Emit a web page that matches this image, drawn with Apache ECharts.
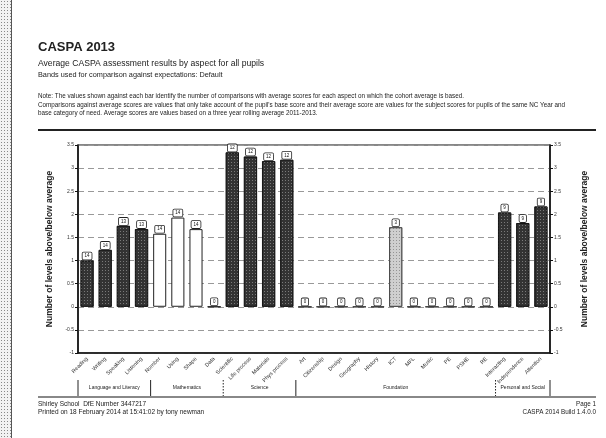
<!DOCTYPE html>
<html><head><meta charset="utf-8">
<script src="https://cdn.jsdelivr.net/npm/echarts@6/dist/echarts.min.js"></script>
<style>
html,body{margin:0;padding:0;background:#fff;}
#chart{position:absolute;left:0;top:0;width:606px;height:438px;}
#strip{position:absolute;left:0;top:0;width:11px;height:438px;border-right:1px solid #555;
background-color:#f2f2f2;background-image:radial-gradient(#888 0.6px, transparent 0.8px);background-size:3px 3px;}
</style></head><body>
<div id="chart"></div><div id="strip"></div>
<script>
// ---- data ----
const categories = ['Reading','Writing','Speaking','Listening','Number','Using','Shape','Data',
  'Scientific','Life process','Materials','Phys process',
  'Art','Citizenship','Design','Geography','History','ICT','MFL','Music','PE','PSHE','RE',
  'Interacting','Independence','Attention'];
const groupNames = ['Language and Literacy','Mathematics','Science','Foundation','Personal and Social'];
const groupSizes = [4,4,4,11,3];
const values = [1.00,1.23,1.75,1.68, 1.58,1.93,1.68,0.00, 3.34,3.25,3.15,3.18,
  0,0,0,0,0,1.72,0,0,0,0,0, 2.04,1.81,2.17];
const counts = [14,14,13,13, 14,14,14,0, 12,12,12,12, 0,0,0,0,0,3,0,0,0,0,0, 9,9,9];
const yMin = -1, yMax = 3.5, yInterval = 0.5;
const axisName = 'Number of levels above/below average';

// ---- styles per group ----
const darkStyle = {color:'#333', borderColor:'#111', borderWidth:0.8,
  decal:{symbol:'rect', symbolSize:1, color:'rgba(255,255,255,0.35)', dashArrayX:[1,2], dashArrayY:[1,2]}};
const whiteStyle = {color:'#fff', borderColor:'#222', borderWidth:1};
const lightStyle = {color:'#cfcfcf', borderColor:'#444', borderWidth:0.8,
  decal:{symbol:'rect', symbolSize:1, color:'rgba(90,90,90,0.5)', dashArrayX:[1,2], dashArrayY:[1,2]}};
const groupStyles = [darkStyle, whiteStyle, darkStyle, lightStyle, darkStyle];

const groupOf = [];
groupSizes.forEach((n,g)=>{for(let i=0;i<n;i++) groupOf.push(g);});

const chart = echarts.init(document.getElementById('chart'), null, {renderer:'canvas'});
const txt = (s, pos, top, size, extra) => Object.assign({text:s, top:top, padding:0,
  textStyle:Object.assign({fontSize:size, fontWeight:'normal', color:'#222', fontFamily:'Liberation Sans'}, extra||{})}, pos);

const yAxisBase = {type:'value', min:yMin, max:yMax, interval:yInterval,
  name:axisName, nameLocation:'middle', nameRotate:90,
  nameTextStyle:{fontSize:8.5, fontWeight:'bold', color:'#222', fontFamily:'Liberation Sans'},
  axisLine:{show:true, lineStyle:{color:'#111', width:1.5}},
  axisTick:{show:true, length:3, lineStyle:{color:'#111'}},
  axisLabel:{fontSize:5, color:'#333', margin:4}};

chart.setOption({
  animation:false,
  title:[
    txt('CASPA 2013', {left:38}, 41, 13, {fontWeight:'bold'}),
    txt('Average CASPA assessment results by aspect for all pupils', {left:38}, 59, 8.6),
    txt('Bands used for comparison against expectations: Default', {left:38}, 71, 7.3),
    txt('Note: The values shown against each bar identify the number of comparisons with average scores for each aspect on which the cohort average is based.', {left:38}, 93, 6.3),
    txt('Comparisons against average scores are values that only take account of the pupil\'s base score and their average score are values for the subject scores for pupils of the same NC Year and', {left:38}, 102, 6.3),
    txt('base category of need. Average scores are values based on a three year rolling average 2011-2013.', {left:38}, 110, 6.3),
    txt('Shirley School  DfE Number 3447217', {left:38}, 401, 6.5),
    txt('Printed on 18 February 2014 at 15:41:02 by tony newman', {left:38}, 409, 6.5),
    txt('Page 1', {right:10}, 401, 6.3),
    txt('CASPA 2014 Build 1.4.0.0', {right:10}, 409, 6.3)
  ],
  grid:{left:78, right:56, top:145, bottom:85, show:true, borderColor:'#111', borderWidth:1.2, backgroundColor:'transparent'},
  xAxis:[{type:'category', data:categories,
    axisLine:{show:true, onZero:false, lineStyle:{color:'#111', width:1.5}},
    axisTick:{show:false},
    axisLabel:{interval:0, rotate:45, fontSize:5.5, color:'#333', margin:5}}],
  yAxis:[
    Object.assign({}, yAxisBase, {position:'left', nameGap:24,
      splitLine:{show:true, lineStyle:{color:'#999', type:[6,4], width:1}}}),
    Object.assign({}, yAxisBase, {position:'right', nameGap:30, splitLine:{show:false}})
  ],
  series:[{type:'bar', yAxisIndex:0, barCategoryGap:'28%',
    data: values.map((v,i)=>({value:v, itemStyle:groupStyles[groupOf[i]]})),
    label:{show:true, position:'top', distance:1, fontSize:4.5, color:'#111',
      backgroundColor:'#fff', borderColor:'#222', borderWidth:0.8, borderRadius:1, padding:[1,2,1,2],
      formatter:p=>String(counts[p.dataIndex])}
  }]
});

// group brackets below the axis labels, positioned via the category scale
const cx = i => chart.convertToPixel({xAxisIndex:0}, categories[i]);
const band = cx(1) - cx(0);
const edge = b => (b < categories.length ? cx(b) : cx(categories.length-1) + band) - band/2;
const graphics = [];
const sepY1 = 380, sepY2 = 396;
const bounds = [0];
let start = 0;
groupSizes.forEach(n=>{start+=n; bounds.push(start);});
bounds.forEach((b,k)=>{
  const x = edge(b);
  graphics.push({type:'line', shape:{x1:x, y1:sepY1, x2:x, y2:sepY2},
    style:{stroke:'#222', lineWidth:1, lineDash:(k===2||k===4)?[1.5,1.5]:null}});
});
for(let g=0; g<groupSizes.length; g++){
  graphics.push({type:'text', x:(edge(bounds[g])+edge(bounds[g+1]))/2, y:388, style:{text:groupNames[g], fontSize:5, fill:'#222',
    align:'center', verticalAlign:'middle', fontFamily:'Liberation Sans'}});
}
// page rules
graphics.push({type:'line', shape:{x1:38, y1:130, x2:596, y2:130}, style:{stroke:'#222', lineWidth:2}});
graphics.push({type:'line', shape:{x1:38, y1:397, x2:596, y2:397}, style:{stroke:'#888', lineWidth:2}});
chart.setOption({graphic:graphics});
</script>
</body></html>
